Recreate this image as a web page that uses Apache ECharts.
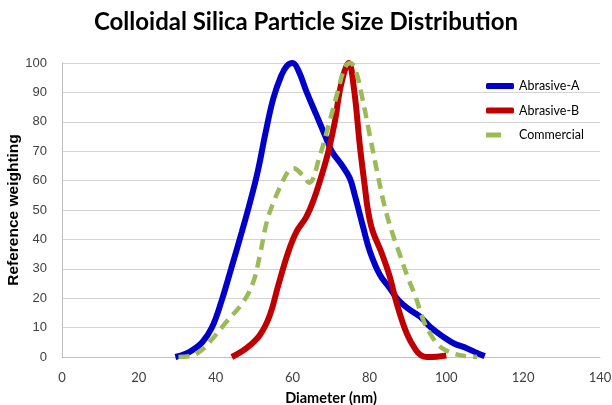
<!DOCTYPE html>
<html><head><meta charset="utf-8">
<script src="https://cdn.jsdelivr.net/npm/echarts@6/dist/echarts.min.js"></script>
<style>html,body{margin:0;padding:0;background:#fff}#c{width:612px;height:405px}</style>
</head><body><div id="c"></div>
<script>
const titleText = "Colloidal Silica Particle Size Distribution";
const xAxisName = "Diameter (nm)";
const yAxisName = "Reference weighting";
const seriesNames = ["Abrasive-A", "Abrasive-B", "Commercial"];

const xA = [29.5,32,34,36.5,39,41.5,44,46.8,49,51,53,55,57,58.5,60,61.5,63.7,66.3,68.4,70.2,72.8,74.9,76.2,78.4,80.1,82.7,85.3,87.5,90,93.2,96,99.2,102,105.3,108,110];
const yA = [0,1,2.4,5,10,19,30,42.6,53,63.5,76.5,88,95.5,99,100,97.5,90,82,75.5,70,65.3,60.8,55,44,36,28,23.4,19.4,16.5,13.7,10,6.9,4.6,3,1.4,0.3];

const xB = [44.2,48,51.5,54.1,56.3,58.9,61,63.5,65.5,67.5,69.3,71,72.6,74.6,76,77.5,78.8,79.6,80.8,83.2,85.3,87.1,89.7,92,93.5,95,97.5,100];
const yB = [0,3,7.5,14.3,24.5,35.8,42.6,47.5,53.5,61.5,69.8,80,92.5,100,91,72,58,50,43,35.3,27.3,18.2,8,2.5,0.5,0,0.1,0.5];

const xC = [30.3,33.5,36,38.5,42.8,47.2,49.8,51.5,53.3,55,57,58.8,60.2,62.5,64.3,67.1,69.3,71.7,73.6,75,76.5,78,80,82,84,86,88,90,92,94,96,98,100,102,105,108];
const yC = [0,0.3,2,5.2,12,18.8,25.6,34.7,46,52.5,58.5,63,64.2,62,59.3,68.5,78.5,90,98.5,100,97,89,76,63,51,42,34.5,27,20.5,12.6,7.5,4,2.2,1.1,0.3,0];

const xTicks = {min:0, max:140, interval:20};
const yTicks = {min:0, max:100, interval:10};

function pairs(xs, ys){ return xs.map((x,i)=>[x, ys[i]]); }

const chart = echarts.init(document.getElementById('c'), null, {renderer:'canvas'});
chart.setOption({
  animation:false,
  backgroundColor:'#ffffff',
  title:{text:titleText, left:'center', top:5,
    textStyle:{fontFamily:'Lato', fontWeight:'bold', fontSize:24, color:'#000'}},
  grid:{left:62, right:12, top:63, bottom:48, containLabel:false, outerBoundsMode:'none'},
  legend:{orient:'vertical', left:481, top:74, itemWidth:28, itemHeight:6, itemGap:10.5,
    textStyle:{fontFamily:'Lato', fontSize:12.5, color:'#000', lineHeight:14},
    data:[
      {name:seriesNames[0], icon:'roundRect', itemStyle:{color:'#0000C8'}},
      {name:seriesNames[1], icon:'roundRect', itemStyle:{color:'#C00000'}},
      {name:seriesNames[2], icon:'path://M0,0 L15,0 L15,5 L0,5 Z M27.95,4.95 L28,4.95 L28,5 L27.95,5 Z', itemStyle:{color:'#9BBB59'}}
    ]},
  xAxis:{type:'value', min:xTicks.min, max:xTicks.max, interval:xTicks.interval,
    name:xAxisName, nameLocation:'middle', nameGap:34, nameMoveOverlap:false,
    nameTextStyle:{fontFamily:'Lato', fontWeight:'bold', fontSize:14.5, color:'#000'},
    axisLine:{show:true, lineStyle:{color:'#bfbfbf', width:1}},
    axisTick:{show:false}, splitLine:{show:false},
    axisLabel:{fontFamily:'Lato', fontSize:13, color:'#404040', margin:14}},
  yAxis:{type:'value', min:yTicks.min, max:yTicks.max, interval:yTicks.interval,
    name:yAxisName, nameLocation:'middle', nameGap:40, nameRotate:90, nameMoveOverlap:false,
    nameTextStyle:{fontFamily:'Liberation Sans', fontWeight:'bold', fontSize:15.5, color:'#000'},
    axisLine:{show:true, lineStyle:{color:'#bfbfbf', width:1}},
    axisTick:{show:false},
    splitLine:{show:true, lineStyle:{color:'#d4d4d4', width:1}},
    axisLabel:{fontFamily:'Liberation Sans', fontSize:13, color:'#404040', margin:15}},
  series:[
    {name:seriesNames[0], type:'line', data:pairs(xA,yA), smooth:0.4, symbol:'none',
      lineStyle:{color:'#0000C8', width:6}, itemStyle:{color:'#0000C8'}},
    {name:seriesNames[1], type:'line', data:pairs(xB,yB), smooth:0.4, symbol:'none',
      lineStyle:{color:'#C00000', width:6}, itemStyle:{color:'#C00000'}},
    {name:seriesNames[2], type:'line', data:pairs(xC,yC), smooth:0.4, symbol:'none',
      lineStyle:{color:'#9BBB59', width:4.5, type:[11,7]}, itemStyle:{color:'#9BBB59'}}
  ]
});
</script></body></html>
